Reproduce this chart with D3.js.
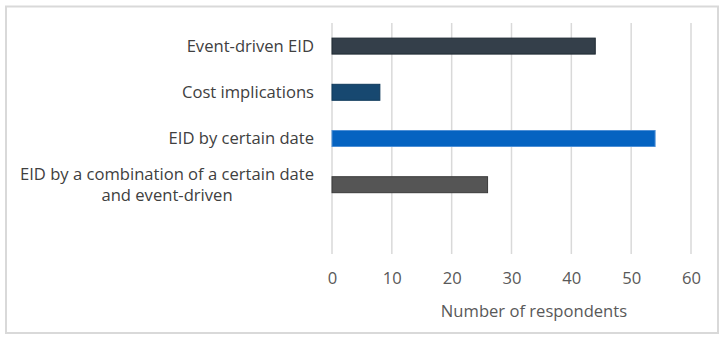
<!DOCTYPE html>
<html>
<head>
<meta charset="utf-8">
<script src="https://cdn.jsdelivr.net/npm/d3@7"></script>
<style>
  body { margin: 0; background: #fff; }
  text { font-family: "Open Sans", "Noto Sans", sans-serif; }
</style>
</head>
<body>
<svg id="chart" width="725" height="343"></svg>
<script>
// data
var categories = [
  ["Event-driven EID"],
  ["Cost implications"],
  ["EID by certain date"],
  ["EID by a combination of a certain date", "and event-driven"],
  [""]
];
var values = [44, 8, 54, 26, null];
var barFill = ["#343f4a", "#174870", "#0563c1", "#555555", "none"];
var barStroke = ["#1f2a33", "#0f3a5c", "#4d8fd6", "#3a3a3a", "none"];
var xTicks = [0, 10, 20, 30, 40, 50, 60];
var xTitle = "Number of respondents";

(function() {
var svg = d3.select("#chart");
var fs = "16.6px";

// outer frame
svg.append("rect")
  .attr("x", 6).attr("y", 6.5)
  .attr("width", 712).attr("height", 326.5)
  .attr("fill", "none")
  .attr("stroke", "#d9d9d9")
  .attr("stroke-width", 2);

var plotL = 332, plotR = 691, plotT = 23, plotB = 254;

var x = d3.scaleLinear().domain([0, 60]).range([plotL, plotR]);
var pad = 0.654;
var y = d3.scaleBand()
  .domain(d3.range(categories.length))
  .range([plotT, plotB])
  .paddingInner(pad)
  .paddingOuter(pad / 2);

// gridlines
svg.append("g")
  .selectAll("line")
  .data(xTicks)
  .join("line")
  .attr("x1", function(d){ return x(d); })
  .attr("x2", function(d){ return x(d); })
  .attr("y1", plotT)
  .attr("y2", plotB)
  .attr("stroke", "#d9d9d9")
  .attr("stroke-width", 1.5);

// bars
var idx = d3.range(values.length).filter(function(i){ return values[i] != null; });
svg.append("g")
  .selectAll("rect")
  .data(idx)
  .join("rect")
  .attr("x", x(0))
  .attr("y", function(i){ return y(i); })
  .attr("width", function(i){ return x(values[i]) - x(0); })
  .attr("height", y.bandwidth())
  .attr("fill", function(i){ return barFill[i]; })
  .attr("stroke", function(i){ return barStroke[i]; })
  .attr("stroke-width", 1);

// x axis labels
var xAxis = svg.append("g")
  .attr("transform", "translate(0," + 284 + ")")
  .call(d3.axisBottom(x).tickValues(xTicks).tickSize(0).tickPadding(0));
xAxis.select(".domain").remove();
xAxis.selectAll("text")
  .attr("dy", 0)
  .attr("y", 0)
  .style("font-family", '"Open Sans", "Noto Sans", sans-serif')
  .style("font-size", fs)
  .attr("fill", "#595959");

svg.append("text")
  .attr("x", 534)
  .attr("y", 317)
  .attr("text-anchor", "middle")
  .attr("fill", "#595959")
  .style("font-size", fs)
  .text(xTitle);

// category labels: block right-aligned, lines centred
var labelRight = 314, lineH = 21;
categories.forEach(function(lines, i) {
  var cy = y(i) + y.bandwidth() / 2;
  var g = svg.append("g");
  var ts = lines.map(function(s) {
    return g.append("text")
      .attr("fill", "#404040")
      .style("font-size", fs)
      .attr("text-anchor", "middle")
      .attr("dy", "0.35em")
      .text(s);
  });
  var w = d3.max(ts, function(t){ return t.node().getComputedTextLength(); });
  var y0 = lines.length > 1 ? 174 - cy : 0;
  ts.forEach(function(t, k) {
    t.attr("x", labelRight - w / 2).attr("y", cy + y0 + k * lineH);
  });
});
})();
</script>
</body>
</html>
